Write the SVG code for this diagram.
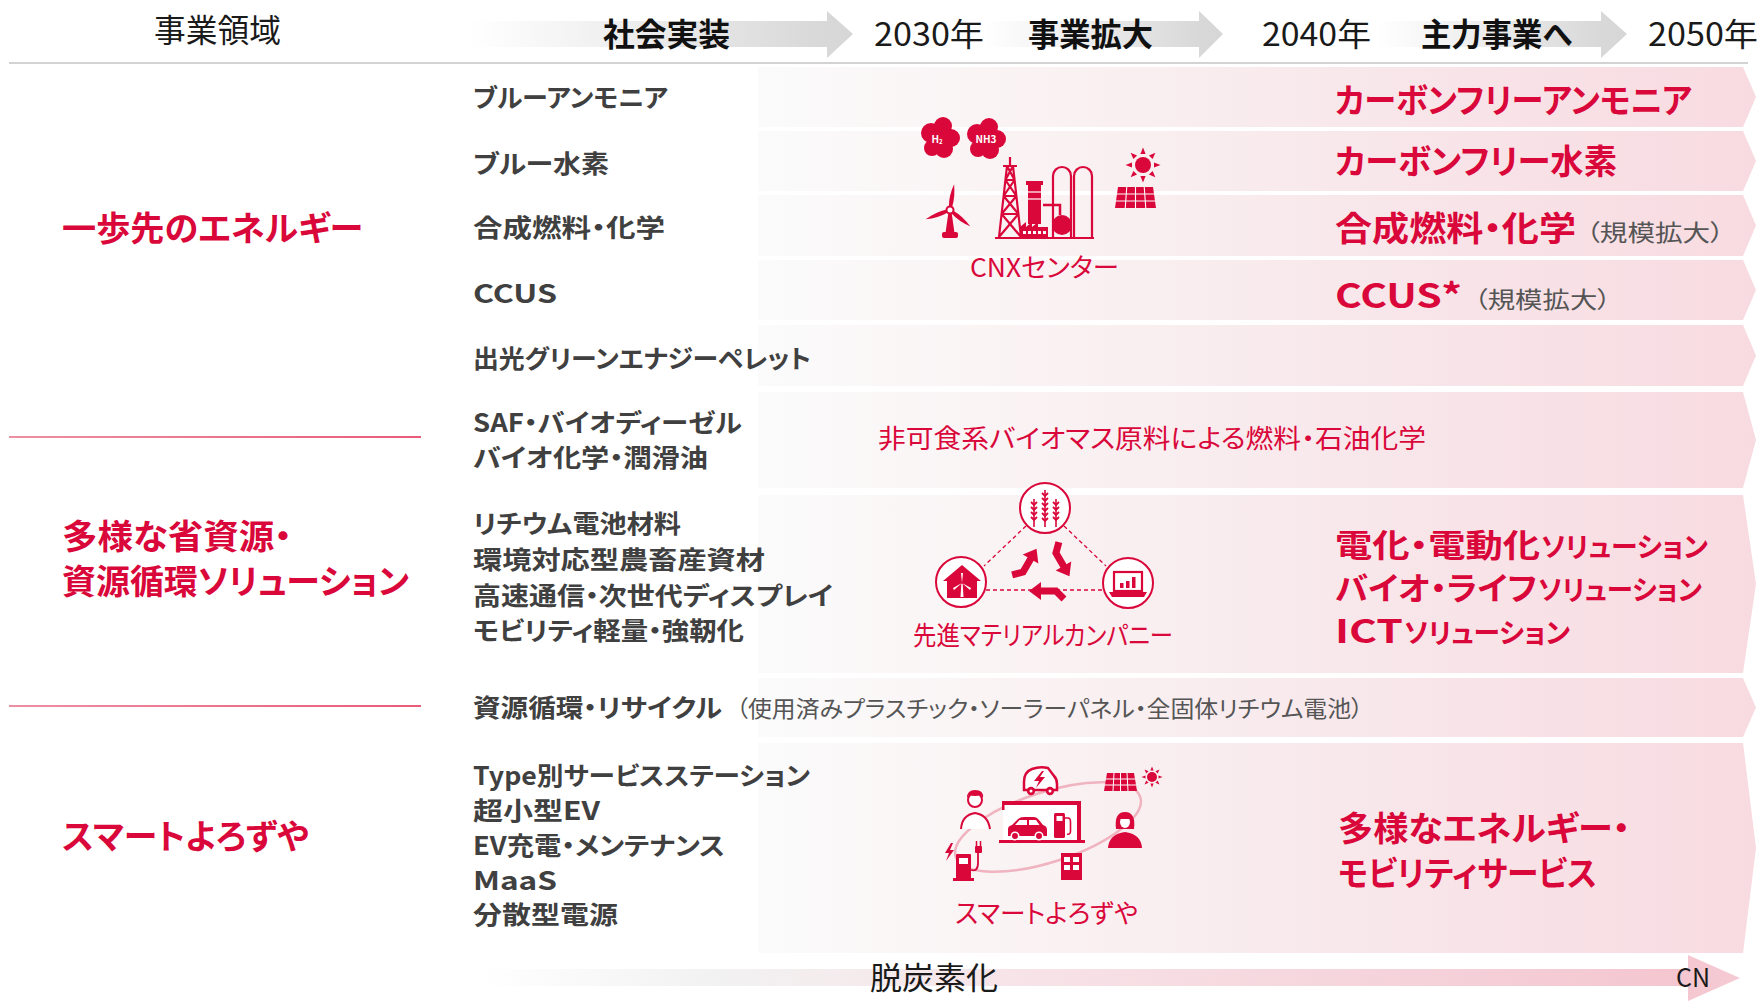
<svg xmlns="http://www.w3.org/2000/svg" width="1761" height="1003" viewBox="0 0 1761 1003">
<style>
  text { font-family: "Noto Sans CJK JP", "Noto Sans", sans-serif; font-feature-settings: "palt"; }
  .hd { font-size: 32px; fill: #1a1a1a; }
  .hdb { font-size: 32px; font-weight: 700; fill: #111111; }
  .cat { font-size: 34px; font-weight: 700; fill: #d9073a; }
  .item { font-size: 25.5px; font-weight: 700; fill: #404040; }
  .note { font-size: 23px; font-weight: 400; fill: #555555; }
  .goal { font-size: 34px; font-weight: 700; fill: #d9073a; }
  .goalM { font-size: 32px; font-weight: 700; fill: #d9073a; }
  .goalS { font-size: 27.5px; font-weight: 700; fill: #d9073a; }
  .lbl { font-size: 26px; fill: #d9073a; }
  .red { fill: #d9073a; }
  .rs { fill: none; stroke: #d9073a; }
  .ws { fill: none; stroke: #ffffff; }
  .sep { stroke-width: 1.5; }
</style>
<defs>
  <linearGradient id="bandGrad" gradientUnits="userSpaceOnUse" x1="758" y1="0" x2="1756" y2="0">
    <stop offset="0" stop-color="#fbfbfb"/>
    <stop offset="0.25" stop-color="#faf3f4"/>
    <stop offset="0.55" stop-color="#f8e9ec"/>
    <stop offset="1" stop-color="#f8dbe1"/>
  </linearGradient>
  <linearGradient id="ph1" gradientUnits="userSpaceOnUse" x1="470" y1="0" x2="853" y2="0">
    <stop offset="0" stop-color="#ffffff"/>
    <stop offset="0.9" stop-color="#d9d9d9"/>
    <stop offset="1" stop-color="#d6d6d6"/>
  </linearGradient>
  <linearGradient id="ph2" gradientUnits="userSpaceOnUse" x1="985" y1="0" x2="1223" y2="0">
    <stop offset="0" stop-color="#ffffff"/>
    <stop offset="0.88" stop-color="#d9d9d9"/>
    <stop offset="1" stop-color="#d6d6d6"/>
  </linearGradient>
  <linearGradient id="ph3" gradientUnits="userSpaceOnUse" x1="1377" y1="0" x2="1627" y2="0">
    <stop offset="0" stop-color="#ffffff"/>
    <stop offset="0.88" stop-color="#d9d9d9"/>
    <stop offset="1" stop-color="#d6d6d6"/>
  </linearGradient>
  <linearGradient id="cnGrad" gradientUnits="userSpaceOnUse" x1="480" y1="0" x2="1740" y2="0">
    <stop offset="0" stop-color="#ffffff"/>
    <stop offset="0.18" stop-color="#f2f2f2"/>
    <stop offset="0.42" stop-color="#f7e4e8"/>
    <stop offset="0.95" stop-color="#f4c6d0"/>
    <stop offset="1" stop-color="#f5cbd4"/>
  </linearGradient>
  <linearGradient id="sepGrad" gradientUnits="userSpaceOnUse" x1="9" y1="0" x2="421" y2="0">
    <stop offset="0" stop-color="#e76a82"/>
    <stop offset="1" stop-color="#e2244d"/>
  </linearGradient>
  <path id="blade" d="M-1.6,-3 Q-3.4,-14 0,-26 Q3.2,-14 1.6,-3 Z"/>
  <polygon id="ray" points="-2.6,-11 2.6,-11 0,-17.5"/>
  <polygon id="rayS" points="-1.6,-6.5 1.6,-6.5 0,-10.5"/>
  <!-- one bent arrow of the recycling mark, pointing along +x -->
  <g id="recArrow">
    <path d="M-19,-8 L-11,0 L5,0" fill="none" stroke="#d9073a" stroke-width="7" stroke-linejoin="miter"/>
    <polygon points="4,-9 16,0 4,9" fill="#d9073a"/>
  </g>
  <path id="ear" d="M-3,0 L0,3 L3,0" fill="none" stroke="#d9073a" stroke-width="1.8"/>
</defs>

<rect width="1761" height="1003" fill="#ffffff"/>

<!-- timeline header -->
<g id="header">
  <path d="M470,21 H827 V11 L853,34 L827,58 V47 H470 Z" fill="url(#ph1)"/>
  <path d="M985,21 H1199 V11 L1223,34 L1199,58 V47 H985 Z" fill="url(#ph2)"/>
  <path d="M1377,21 H1601 V11 L1627,34 L1601,58 V47 H1377 Z" fill="url(#ph3)"/>
  <text class="hd" x="154" y="42" textLength="127" lengthAdjust="spacingAndGlyphs">事業領域</text>
  <text class="hdb" x="603" y="46" textLength="127" lengthAdjust="spacingAndGlyphs">社会実装</text>
  <text class="hd" x="874" y="46" textLength="110" lengthAdjust="spacingAndGlyphs">2030年</text>
  <text class="hdb" x="1028" y="46" textLength="125" lengthAdjust="spacingAndGlyphs">事業拡大</text>
  <text class="hd" x="1262" y="46" textLength="109" lengthAdjust="spacingAndGlyphs">2040年</text>
  <text class="hdb" x="1421" y="46" textLength="151" lengthAdjust="spacingAndGlyphs">主力事業へ</text>
  <text class="hd" x="1648" y="46" textLength="110" lengthAdjust="spacingAndGlyphs">2050年</text>
  <line x1="9" y1="63" x2="1748" y2="63" stroke="#c4c4c4" stroke-width="1.5"/>
</g>

<!-- row bands -->
<g id="bands" fill="url(#bandGrad)">
  <path d="M758,67 H1743 L1756,97 L1743,127 H758 Z"/>
  <path d="M758,131 H1743 L1756,161 L1743,191 H758 Z"/>
  <path d="M758,195 H1743 L1756,225.5 L1743,256 H758 Z"/>
  <path d="M758,260 H1743 L1756,290 L1743,320 H758 Z"/>
  <path d="M758,325 H1743 L1756,355.5 L1743,386 H758 Z"/>
  <path d="M758,392 H1743 L1756,440 L1743,488 H758 Z"/>
  <path d="M758,495 H1743 L1756,584 L1743,673 H758 Z"/>
  <path d="M758,678 H1743 L1756,707.5 L1743,737 H758 Z"/>
  <path d="M758,743 H1743 L1756,848 L1743,953 H758 Z"/>
</g>

<!-- domain column -->
<g id="domains">
  <line class="sep" x1="9" y1="437" x2="421" y2="437" stroke="url(#sepGrad)"/>
  <line class="sep" x1="9" y1="706" x2="421" y2="706" stroke="url(#sepGrad)"/>
  <g id="domain-energy">
    <text class="cat" x="62" y="241" textLength="301" lengthAdjust="spacingAndGlyphs">一歩先のエネルギー</text>
  </g>
  <g id="domain-materials">
    <text class="cat" x="62" y="549" textLength="230" lengthAdjust="spacingAndGlyphs">多様な省資源・</text>
    <text class="cat" x="62" y="594" textLength="347" lengthAdjust="spacingAndGlyphs">資源循環ソリューション</text>
  </g>
  <g id="domain-yorozuya">
    <text class="cat" x="62" y="849" textLength="247" lengthAdjust="spacingAndGlyphs">スマートよろずや</text>
  </g>
</g>

<!-- current business items -->
<g id="items">
  <text class="item" x="473" y="107" textLength="195" lengthAdjust="spacingAndGlyphs">ブルーアンモニア</text>
  <text class="item" x="473" y="173" textLength="136" lengthAdjust="spacingAndGlyphs">ブルー水素</text>
  <text class="item" x="473" y="237" textLength="192" lengthAdjust="spacingAndGlyphs">合成燃料・化学</text>
  <text class="item" x="473" y="303" textLength="84" lengthAdjust="spacingAndGlyphs">CCUS</text>
  <text class="item" x="473" y="368" textLength="338" lengthAdjust="spacingAndGlyphs">出光グリーンエナジーペレット</text>
  <text class="item" x="473" y="432" textLength="269" lengthAdjust="spacingAndGlyphs">SAF・バイオディーゼル</text>
  <text class="item" x="473" y="467" textLength="235" lengthAdjust="spacingAndGlyphs">バイオ化学・潤滑油</text>
  <text class="item" x="473" y="533" textLength="208" lengthAdjust="spacingAndGlyphs">リチウム電池材料</text>
  <text class="item" x="473" y="569" textLength="292" lengthAdjust="spacingAndGlyphs">環境対応型農畜産資材</text>
  <text class="item" x="473" y="605" textLength="360" lengthAdjust="spacingAndGlyphs">高速通信・次世代ディスプレイ</text>
  <text class="item" x="473" y="640" textLength="271" lengthAdjust="spacingAndGlyphs">モビリティ軽量・強靭化</text>
  <text class="item" y="717"><tspan x="473" textLength="249" lengthAdjust="spacingAndGlyphs">資源循環・リサイクル</tspan><tspan class="note" x="736" textLength="627" lengthAdjust="spacingAndGlyphs">（使用済みプラスチック・ソーラーパネル・全固体リチウム電池）</tspan></text>
  <text class="item" x="473" y="785" textLength="337" lengthAdjust="spacingAndGlyphs">Type別サービスステーション</text>
  <text class="item" x="473" y="820" textLength="127" lengthAdjust="spacingAndGlyphs">超小型EV</text>
  <text class="item" x="473" y="855" textLength="252" lengthAdjust="spacingAndGlyphs">EV充電・メンテナンス</text>
  <text class="item" x="473" y="890" textLength="84" lengthAdjust="spacingAndGlyphs">MaaS</text>
  <text class="item" x="473" y="924" textLength="145" lengthAdjust="spacingAndGlyphs">分散型電源</text>
</g>

<!-- 2050 targets -->
<g id="targets">
  <text class="goal" x="1335" y="113" textLength="357" lengthAdjust="spacingAndGlyphs">カーボンフリーアンモニア</text>
  <text class="goal" x="1335" y="174" textLength="282" lengthAdjust="spacingAndGlyphs">カーボンフリー水素</text>
  <text class="goal" y="241"><tspan x="1335" textLength="241" lengthAdjust="spacingAndGlyphs">合成燃料・化学</tspan><tspan class="note" x="1586" textLength="138" lengthAdjust="spacingAndGlyphs">（規模拡大）</tspan></text>
  <text class="goal" y="308"><tspan x="1335" textLength="127" lengthAdjust="spacingAndGlyphs">CCUS*</tspan><tspan class="note" x="1474" textLength="137" lengthAdjust="spacingAndGlyphs">（規模拡大）</tspan></text>
  <text class="lbl" x="878" y="448" font-size="27" textLength="548" lengthAdjust="spacingAndGlyphs">非可食系バイオマス原料による燃料・石油化学</text>
  <text class="goalM" y="557"><tspan x="1335" textLength="205" lengthAdjust="spacingAndGlyphs">電化・電動化</tspan><tspan class="goalS" x="1541" textLength="167" lengthAdjust="spacingAndGlyphs">ソリューション</tspan></text>
  <text class="goalM" y="600"><tspan x="1335" textLength="202" lengthAdjust="spacingAndGlyphs">バイオ・ライフ</tspan><tspan class="goalS" x="1538" textLength="164" lengthAdjust="spacingAndGlyphs">ソリューション</tspan></text>
  <text class="goalM" y="643"><tspan x="1335" textLength="68" lengthAdjust="spacingAndGlyphs">ICT</tspan><tspan class="goalS" x="1404" textLength="166" lengthAdjust="spacingAndGlyphs">ソリューション</tspan></text>
  <text class="goal" x="1338" y="841" textLength="292" lengthAdjust="spacingAndGlyphs">多様なエネルギー・</text>
  <text class="goal" x="1338" y="886" textLength="259" lengthAdjust="spacingAndGlyphs">モビリティサービス</text>
</g>

<!-- CNX center illustration -->
<g id="cnx-center">
  <g class="red">
    <circle cx="931" cy="133" r="10"/>
    <circle cx="943" cy="126" r="9"/>
    <circle cx="951" cy="138" r="9"/>
    <circle cx="944" cy="149" r="9"/>
    <circle cx="932" cy="148" r="8"/>
    <circle cx="940" cy="139" r="10"/>
    <circle cx="977" cy="134" r="10"/>
    <circle cx="989" cy="127" r="9"/>
    <circle cx="997" cy="139" r="9"/>
    <circle cx="990" cy="150" r="9"/>
    <circle cx="978" cy="149" r="8"/>
    <circle cx="986" cy="140" r="10"/>
  </g>
  <text x="937" y="143" font-size="10" font-weight="700" fill="#ffffff" text-anchor="middle">H<tspan font-size="6" dy="1">2</tspan></text>
  <text x="986" y="143" font-size="10" font-weight="700" fill="#ffffff" text-anchor="middle">NH3</text>
  <!-- wind turbine -->
  <g class="red">
    <polygon points="948.5,212 951.5,212 954.5,233 945.5,233"/>
    <rect x="942" y="232" width="16" height="6" rx="2"/>
    <use href="#blade" transform="translate(950,210) rotate(9)"/>
    <use href="#blade" transform="translate(950,210) rotate(129)"/>
    <use href="#blade" transform="translate(950,210) rotate(249)"/>
  </g>
  <circle cx="950" cy="210" r="3.5" fill="#ffffff" stroke="#d9073a" stroke-width="2"/>
  <!-- derrick -->
  <path class="rs" stroke-width="2.2" d="M999,237 L1007,166 M1021,237 L1013,166 M1003,166 H1017 M1010,166 V157
    M1005.4,180 H1014.6 M1003.6,196 H1016.4 M1001.6,214 H1018.4
    M1007,166 L1014.6,180 M1013,166 L1005.4,180 M1005.4,180 L1016.4,196 M1014.6,180 L1003.6,196
    M1003.6,196 L1018.4,214 M1016.4,196 L1001.6,214 M1001.6,214 L1021,237 M1018.4,214 L999,237"/>
  <!-- stack and plant -->
  <rect class="red" x="1026" y="181" width="17" height="4"/>
  <rect class="red" x="1028" y="184" width="13" height="40"/>
  <line class="ws" x1="1028" y1="192" x2="1041" y2="192" stroke-width="1.2"/>
  <line class="ws" x1="1028" y1="199" x2="1041" y2="199" stroke-width="1.2"/>
  <path class="red" d="M1020,238 V227 L1026,222 V227 L1032,222 V227 L1038,222 V227 L1048,227 V238 Z"/>
  <g fill="#ffffff">
    <rect x="1023" y="231" width="3" height="3"/>
    <rect x="1028" y="231" width="3" height="3"/>
    <rect x="1033" y="231" width="3" height="3"/>
    <rect x="1038" y="231" width="3" height="3"/>
    <rect x="1043" y="231" width="3" height="3"/>
  </g>
  <polyline class="rs" stroke-width="2.5" points="1043,205 1060,205 1060,215"/>
  <path class="rs" stroke-width="2.2" d="M1053,238 V176 A9,9 0 0 1 1071,176 V238 M1074,238 V176 A9,9 0 0 1 1092,176 V238"/>
  <circle class="red" cx="1062" cy="225" r="10"/>
  <line class="rs" x1="995" y1="238" x2="1094" y2="238" stroke-width="2"/>
  <!-- sun and solar panel -->
  <g class="red" transform="translate(1143,165)">
    <circle r="8"/>
    <use href="#ray"/>
    <use href="#ray" transform="rotate(45)"/>
    <use href="#ray" transform="rotate(90)"/>
    <use href="#ray" transform="rotate(135)"/>
    <use href="#ray" transform="rotate(180)"/>
    <use href="#ray" transform="rotate(225)"/>
    <use href="#ray" transform="rotate(270)"/>
    <use href="#ray" transform="rotate(315)"/>
  </g>
  <polygon class="red" points="1118,187 1153,187 1156,208 1115,208"/>
  <path class="ws" stroke-width="1.1" d="M1117,194 H1154 M1116,201 H1155 M1126.75,187 L1125.25,208 M1135.5,187 V208 M1144.25,187 L1145.75,208"/>
  <text class="lbl" x="970" y="277" textLength="149" lengthAdjust="spacingAndGlyphs">CNXセンター</text>
</g>

<!-- advanced materials illustration -->
<g id="advanced-materials">
  <g class="rs" stroke-width="1.3" stroke-dasharray="4 3">
    <line x1="1026" y1="526" x2="984" y2="566"/>
    <line x1="1064" y1="526" x2="1106" y2="566"/>
    <line x1="986" y1="590" x2="1103" y2="590"/>
  </g>
  <g fill="#ffffff" stroke="#d9073a" stroke-width="2">
    <circle cx="1045" cy="508" r="25"/>
    <circle cx="961" cy="582" r="25"/>
    <circle cx="1128" cy="583" r="25"/>
  </g>
  <!-- wheat -->
  <g class="rs" stroke-width="1.6">
    <line x1="1045" y1="490" x2="1045" y2="527"/>
    <line x1="1034" y1="499" x2="1034" y2="527"/>
    <line x1="1056" y1="499" x2="1056" y2="527"/>
  </g>
  <use href="#ear" x="1045" y="493"/>
  <use href="#ear" x="1045" y="498"/>
  <use href="#ear" x="1045" y="503"/>
  <use href="#ear" x="1045" y="508"/>
  <use href="#ear" x="1045" y="513"/>
  <use href="#ear" x="1045" y="518"/>
  <use href="#ear" x="1034" y="502"/>
  <use href="#ear" x="1034" y="507"/>
  <use href="#ear" x="1034" y="512"/>
  <use href="#ear" x="1034" y="517"/>
  <use href="#ear" x="1056" y="502"/>
  <use href="#ear" x="1056" y="507"/>
  <use href="#ear" x="1056" y="512"/>
  <use href="#ear" x="1056" y="517"/>
  <!-- house with turbine -->
  <path class="red" d="M962,565 L943,581 L947,581 V598 H977 V581 L981,581 Z"/>
  <g fill="#ffffff">
    <polygon points="961.3,584 962.7,584 963.5,597 960.5,597"/>
    <path d="M962,583 L961,573 L963,573 Z"/>
    <path d="M962,583 L953,588 L954,590 Z"/>
    <path d="M962,583 L971,588 L970,590 Z"/>
  </g>
  <!-- laptop -->
  <rect x="1114" y="572" width="28" height="19" fill="#ffffff" stroke="#d9073a" stroke-width="2.2"/>
  <g class="red">
    <rect x="1120" y="583" width="3.5" height="5"/>
    <rect x="1126" y="581" width="3.5" height="7"/>
    <rect x="1132" y="577" width="3.5" height="11"/>
    <path d="M1109,592 H1147 L1144,597 H1112 Z"/>
  </g>
  <!-- recycling arrows, placed clockwise round the centre -->
  <g transform="translate(1045,572)">
    <use href="#recArrow" transform="rotate(60) translate(0,-19)"/>
    <use href="#recArrow" transform="rotate(180) translate(0,-19)"/>
    <use href="#recArrow" transform="rotate(300) translate(0,-19)"/>
  </g>
  <text class="lbl" x="913" y="645" textLength="260" lengthAdjust="spacingAndGlyphs">先進マテリアルカンパニー</text>
</g>

<!-- smart yorozuya illustration -->
<g id="smart-yorozuya">
  <ellipse cx="1048" cy="827" rx="97" ry="35" transform="rotate(-18 1048 827)" fill="none" stroke="#f0b3c0" stroke-width="2.5"/>
  <!-- station -->
  <rect x="1003" y="803" width="76" height="38" fill="#ffffff"/>
  <g class="red">
    <rect x="1002" y="801" width="79" height="4"/>
    <rect x="1002" y="801" width="2.5" height="9"/>
    <rect x="1077" y="801" width="4" height="41"/>
    <rect x="999" y="840" width="86" height="3"/>
    <path d="M1008,836 V829 Q1008,826 1012,825 L1018,819 Q1020,817 1024,817 H1034 Q1037,817 1039,820 L1043,825 Q1047,826 1047,830 V836 Z"/>
    <rect x="1054" y="813" width="11" height="25" rx="1.5"/>
  </g>
  <g fill="#ffffff">
    <polygon points="1019.5,820 1027,820 1027,825 1015,825"/>
    <polygon points="1029,820 1036,820 1039.5,825 1029,825"/>
    <rect x="1056.5" y="816" width="6" height="5"/>
    <circle cx="1015" cy="836" r="4.5"/>
    <circle cx="1039" cy="836" r="4.5"/>
  </g>
  <circle class="red" cx="1015" cy="836" r="3"/>
  <circle class="red" cx="1039" cy="836" r="3"/>
  <path class="rs" stroke-width="1.6" d="M1065,818 H1068 Q1070.5,818 1070.5,822 V831 Q1070.5,835 1067,834"/>
  <!-- small EV -->
  <path d="M1024,790 V782 Q1024,772 1032,769 Q1040,766 1048,768 L1054,776 Q1057,779 1057,784 V790 Z" fill="#ffffff" stroke="#d9073a" stroke-width="2.5"/>
  <polygon class="red" points="1042,771 1034,781 1039,781 1036,788 1045,777 1040,777 1044,771"/>
  <circle class="red" cx="1031" cy="791" r="4.2"/>
  <circle class="red" cx="1050" cy="791" r="4.2"/>
  <circle cx="1031" cy="791" r="1.5" fill="#ffffff"/>
  <circle cx="1050" cy="791" r="1.5" fill="#ffffff"/>
  <!-- rooftop solar -->
  <polygon class="red" points="1107,773 1134,773 1137,791 1104,791"/>
  <path class="ws" stroke-width="1" d="M1106,779 H1135 M1105,785 H1136 M1114,773 L1113,791 M1120.5,773 V791 M1127,773 L1128,791"/>
  <g class="red" transform="translate(1152,777)">
    <circle r="5"/>
    <use href="#rayS"/>
    <use href="#rayS" transform="rotate(45)"/>
    <use href="#rayS" transform="rotate(90)"/>
    <use href="#rayS" transform="rotate(135)"/>
    <use href="#rayS" transform="rotate(180)"/>
    <use href="#rayS" transform="rotate(225)"/>
    <use href="#rayS" transform="rotate(270)"/>
    <use href="#rayS" transform="rotate(315)"/>
  </g>
  <!-- customers -->
  <path d="M961,829 Q962,815 975,813 Q988,815 990,829" fill="#ffffff" stroke="#d9073a" stroke-width="2"/>
  <circle cx="975" cy="800" r="7" fill="#ffffff" stroke="#d9073a" stroke-width="2"/>
  <path class="red" d="M967,798 Q967,790 975,790 Q984,790 983,798 L981,795 Q975,797 969,795 Z"/>
  <path class="red" d="M1108,848 Q1109,834 1125,832 Q1141,834 1142,848 Z"/>
  <path class="red" d="M1116,829 Q1114,812 1125,812 Q1136,812 1134,829 Z"/>
  <ellipse cx="1125" cy="822" rx="5" ry="6" fill="#ffffff"/>
  <path class="red" d="M1119,819 Q1121,813 1131,816 L1131,819 Z"/>
  <!-- charger -->
  <polygon class="red" points="951,843 945,853 949,853 946,861 954,850 950,850 953,843"/>
  <rect class="red" x="956" y="854" width="15" height="26" rx="1"/>
  <rect x="959" y="858" width="9" height="6" fill="#ffffff"/>
  <rect class="red" x="953" y="878" width="21" height="3"/>
  <path class="rs" stroke-width="1.8" d="M971,870 Q978,872 978,863 V852"/>
  <rect class="red" x="975" y="846" width="7" height="7" rx="1"/>
  <path class="rs" stroke-width="1.5" d="M976.5,841 V846 M980.5,841 V846"/>
  <!-- shop building -->
  <rect class="red" x="1061" y="853" width="21" height="27"/>
  <g fill="#ffffff">
    <rect x="1064" y="857" width="6" height="5"/>
    <rect x="1073" y="857" width="6" height="5"/>
    <rect x="1064" y="865" width="6" height="5"/>
    <rect x="1073" y="865" width="6" height="5"/>
  </g>
  <text class="lbl" x="955" y="923" textLength="183" lengthAdjust="spacingAndGlyphs">スマートよろずや</text>
</g>

<!-- decarbonisation axis -->
<g id="decarbonisation">
  <path d="M480,969 H1688 V955 L1740,978 L1688,1001 V986 H480 Z" fill="url(#cnGrad)"/>
  <text x="870" y="989" font-size="31" fill="#1a1a1a" textLength="128" lengthAdjust="spacingAndGlyphs">脱炭素化</text>
  <text x="1676" y="987" font-size="26" fill="#1a1a1a" textLength="34" lengthAdjust="spacingAndGlyphs">CN</text>
</g>
</svg>
